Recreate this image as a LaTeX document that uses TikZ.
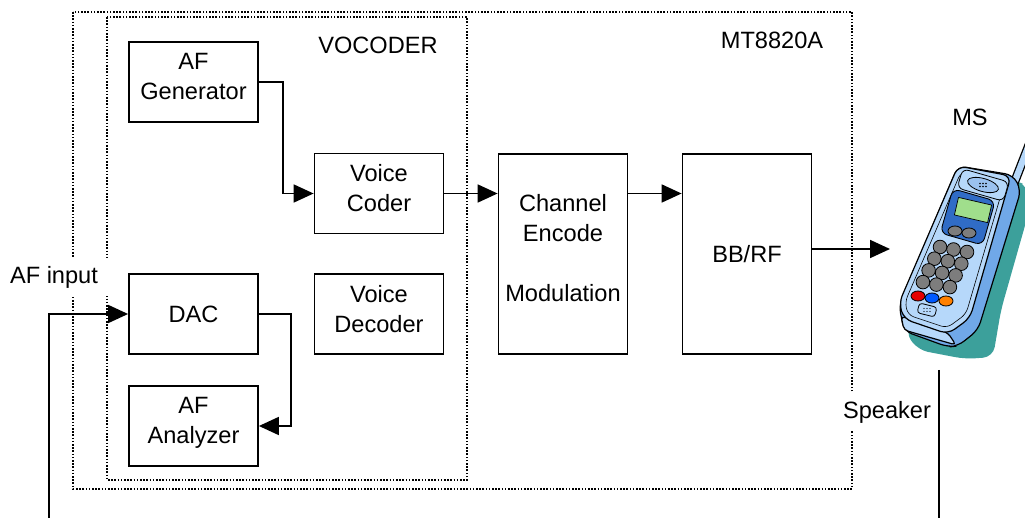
\documentclass[tikz,border=0pt]{standalone}
\usepackage{fontspec}
\setmainfont{Liberation Sans}
\usetikzlibrary{arrows.meta,calc}

\definecolor{phlight}{RGB}{182,216,250}
\definecolor{phmid}{RGB}{112,168,232}
\definecolor{phdark}{RGB}{48,108,198}
\definecolor{phshadow}{RGB}{60,160,155}
\definecolor{lcdgreen}{RGB}{160,222,140}
\definecolor{keygrey}{RGB}{125,125,125}

\begin{document}
\begin{tikzpicture}[x=1pt,y=-1pt,
  every node/.style={font=\fontsize{23.6pt}{30pt}\selectfont, inner sep=0pt},
  blk/.style={draw, line width=1.8pt, minimum width=129pt, minimum height=80pt, align=center},
  twoline/.style={blk, text depth=11pt},
  tall/.style={blk, minimum height=200pt},
  conn/.style={line width=1.8pt, -{Triangle[length=20pt,width=18pt]}},
  wire/.style={line width=1.8pt},
  dotframe/.style={line width=1.6pt, dash pattern=on 1.6pt off 1.6pt},
  cutlabel/.style={fill=white},
  outl/.style={draw=black, line width=1.2pt, line join=round},
  key/.style={draw=black, line width=0.8pt, fill=keygrey}
]
\useasboundingbox (0,0) rectangle (1025,518);

% instrument and vocoder frames
\draw[dotframe] (73,12) rectangle (852,489);
\draw[dotframe] (107,17) rectangle (467,480);

% function blocks
\node[twoline] (afgen) at (193.5,82) {AF\\Generator};
\node[twoline] (vcoder) at (379,193.5) {Voice\\Coder};
\node[twoline] (vdec) at (379,314) {Voice\\Decoder};
\node[blk] (dac) at (193.5,314) {DAC};
\node[twoline] (afan) at (193.5,426) {AF\\Analyzer};
\node[tall] (chenc) at (563,254) {};
\node[align=center] (chtext) at (563,248) {Channel\\Encode\\[30pt]Modulation};
\node[tall] (bbrf) at (747,254) {BB/RF};

% titles
\node (vocoder) at (378,45) {VOCODER};
\node (mt) at (772,40) {MT8820A};
\node (ms) at (970,117) {MS};
\node[cutlabel, inner xsep=10pt, inner ysep=8pt] (afin) at (54,277) {AF input};

% signal paths
\coordinate (msin) at (890,249);
\coordinate (afsrc) at (49,518);
\coordinate (spktop) at (939,370);
\coordinate (spkbot) at (939,518);

\draw[conn] (afgen.east) -- ++(24,0) |- (vcoder.west);
\draw[conn] (vcoder.east) -- (vcoder.east -| chenc.west);
\draw[conn] (chenc.east |- vcoder.east) -- (bbrf.west |- vcoder.east);
\draw[conn] (msin -| bbrf.east) -- (msin);
\draw[conn] (dac.east) -- ++(32,0) |- (afan.east);
\draw[conn] (afsrc) |- (dac.west);
\draw[wire] (spktop) -- (spkbot);
\node[cutlabel, inner xsep=2pt, inner ysep=8pt] (spk) at (887,412) {Speaker};

% handset: shadow, antenna, case, front face
\fill[phshadow, rounded corners=10] (1014,180) -- (1028,186) -- (1028,215) -- (1001,310)
  -- (993,357) -- (965,359) -- (918,350) -- (905,332) -- cycle;
\draw[line width=9pt, black] (1013,186) -- (1034,132);
\draw[line width=6.4pt, phlight] (1013,186) -- (1034,132);
\draw[outl, fill=phmid, rounded corners=8] (958,166) -- (1013,175) -- (1021,190)
  -- (978,330) -- (958,346) -- (948,347) -- (904,331) -- (899,305) -- cycle;
\draw[outl, fill=phlight, rounded corners=4] (901,316) -- (948,333) -- (956,345)
  -- (904,330) -- cycle;
\draw[outl, fill=phlight, rounded corners=8] (958,166) -- (1011,176) -- (970,318)
  -- (948,334) -- (904,319) -- (899,303) -- cycle;
\draw[line width=0.6pt, rounded corners=6] (961,172) -- (1005,181) -- (966,314)
  -- (947,328) -- (908,315) -- (905,302) -- cycle;

% earpiece
\draw[outl, line width=0.8pt, fill=phlight, rounded corners=6, rotate around={-16:(983,185)}]
  (959,175) rectangle (1007,195);
\draw[outl, line width=0.8pt, fill=phmid!70, rotate around={-16:(983,185)}]
  (983,185) ellipse (16 and 6.5);
\foreach \dx in {-3,0,3} \foreach \dy in {-1.5,1.5}
  \fill ($(983,185)+(\dx,\dy)$) circle (0.8);

% display and navigation keys
\draw[outl, line width=0.9pt, fill=phdark, rounded corners=7, rotate around={-16:(968,216)}]
  (946,194) rectangle (990,240);
\draw[outl, line width=0.7pt, fill=lcdgreen, rotate around={-13:(973,210)}]
  (956,201) rectangle (990,219);
\draw[key] (955,231) ellipse (7 and 5);
\draw[key] (969,233) ellipse (7 and 5);

% keypad
\foreach \r in {0,1,2,3} \foreach \c in {0,1,2}
  \draw[key] ($(940,247)+\c*(13.5,2.5)+\r*(-5.7,11.7)$) circle (6.8);

% function keys
\draw[outl, line width=0.8pt, fill=red!90!black] (918,296) ellipse (7 and 5);
\draw[outl, line width=0.8pt, fill=blue!65!cyan] (932,298) ellipse (7 and 5);
\draw[outl, line width=0.8pt, fill=orange] (946,301) ellipse (7 and 5);

% microphone
\draw[outl, line width=0.8pt, fill=phlight, rounded corners=3, rotate around={-14:(927,310)}]
  (918,305) rectangle (936,315);
\foreach \dx in {-3,0,3} \foreach \dy in {-1.5,1.5}
  \fill ($(927,310)+(\dx,\dy)$) circle (0.7);
\end{tikzpicture}
\end{document}
